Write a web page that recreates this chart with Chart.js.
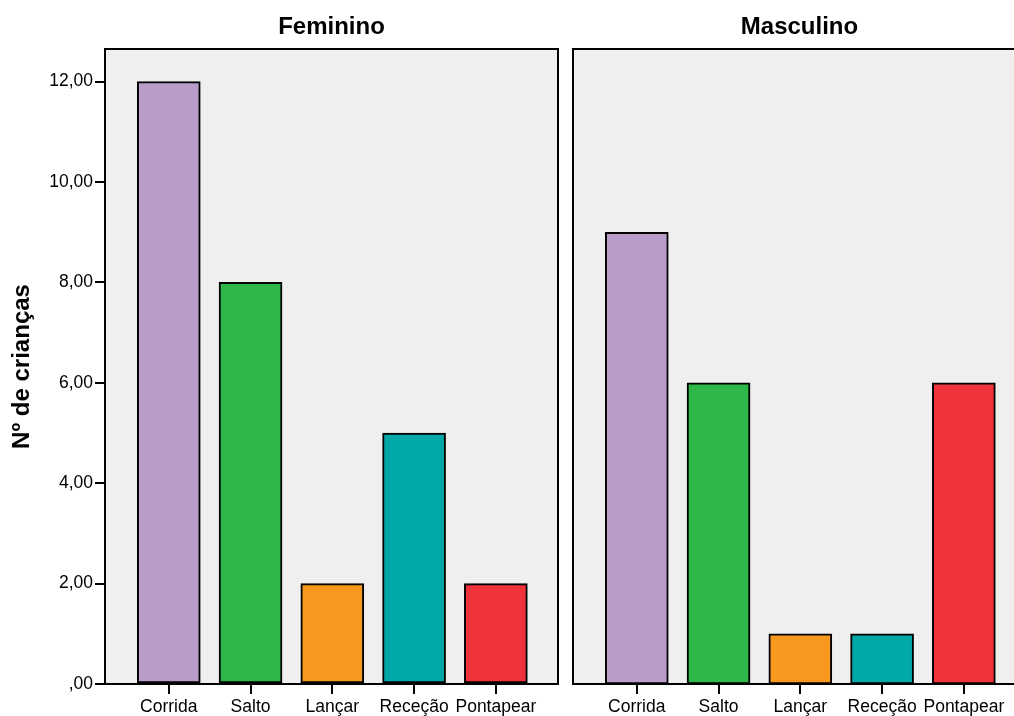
<!DOCTYPE html>
<html>
<head>
<meta charset="utf-8">
<script src="https://cdn.jsdelivr.net/npm/chart.js@4"></script>
<style>
  html, body { margin: 0; padding: 0; background: #fff; overflow: hidden; }
  #wrap { position: relative; width: 1014px; height: 716px; overflow: hidden; }
  #left { position: absolute; left: 0; top: 0; }
  #right { position: absolute; left: 565px; top: 0; }
</style>
</head>
<body>
<div id="wrap">
  <canvas id="left" width="565" height="716"></canvas>
  <canvas id="right" width="475" height="716"></canvas>
</div>
<script>
// categories and values
const categories = ['Corrida', 'Salto', 'Lançar', 'Receção', 'Pontapear'];
const feminino = [12, 8, 2, 5, 2];
const masculino = [9, 6, 1, 1, 6];
const yTicks = [0, 2, 4, 6, 8, 10, 12];
const barColors = ['#B89CC9', '#2EB84A', '#F7991F', '#00A8A8', '#F0333A'];

Chart.defaults.font.family = '"Liberation Sans", Arial, sans-serif';
Chart.defaults.color = '#000';
Chart.defaults.animation = false;

//---------------------------------------------------------------------------
// panel background + frame
const panelBox = {
    id: 'panelBox',
    beforeDatasetsDraw(chart) {
        const a = chart.chartArea;
        const ctx = chart.ctx;
        ctx.save();
        ctx.fillStyle = '#EFEFEF';
        ctx.fillRect(a.left, a.top, a.right - a.left, a.bottom - a.top);
        ctx.restore();
    },
    afterDraw(chart) {
        const a = chart.chartArea;
        const ctx = chart.ctx;
        ctx.save();
        ctx.strokeStyle = '#000';
        ctx.lineWidth = 2;
        ctx.strokeRect(a.left, a.top, a.right - a.left, a.bottom - a.top);
        ctx.restore();
    }
};

const fmt = (v) => v === 0 ? ',00' : v.toFixed(2).replace('.', ',');

//---------------------------------------------------------------------------
function makeChart(id, title, values, showY, pad) {
    const points = values.map((v, i) => ({ x: i, y: v }));
    return new Chart(document.getElementById(id), {
        type: 'bar',
        data: {
            datasets: [{
                label: title,
                data: points,
                backgroundColor: barColors,
                borderColor: '#000',
                borderWidth: 2,
                borderSkipped: false,
                barThickness: 63
            }]
        },
        options: {
            responsive: false,
            layout: { padding: pad },
            plugins: { legend: { display: false }, tooltip: { enabled: false } },
            scales: {
                x: {
                    type: 'linear',
                    position: 'bottom',
                    offset: false,
                    min: -0.78,
                    max: 4.76,
                    afterBuildTicks: (s) => { s.ticks = categories.map((c, i) => ({ value: i })); },
                    afterFit: (s) => { s.height = 32; },
                    ticks: {
                        callback: (v) => categories[v],
                        font: { size: 17.5 },
                        padding: 3,
                        maxRotation: 0,
                        autoSkip: false
                    },
                    grid: { offset: false, drawOnChartArea: false, tickLength: 10, color: '#000', lineWidth: 2 },
                    border: { display: false }
                },
                top: {
                    type: 'linear',
                    position: 'top',
                    afterFit: (s) => { s.height = 49; },
                    ticks: { display: false },
                    grid: { display: false },
                    border: { display: false },
                    title: {
                        display: true,
                        text: title,
                        font: { size: 24, weight: 'bold' },
                        padding: { top: 13, bottom: 0 }
                    }
                },
                y: {
                    display: showY,
                    min: 0,
                    max: 12.65,
                    afterBuildTicks: (s) => { s.ticks = yTicks.map(v => ({ value: v })); },
                    afterFit: (s) => { if (showY) s.width = 105; },
                    ticks: { callback: fmt, font: { size: 17.5 }, padding: 2 },
                    grid: { drawOnChartArea: false, tickLength: 10, color: '#000', lineWidth: 2 },
                    border: { display: false },
                    title: {
                        display: true,
                        text: 'Nº de crianças',
                        font: { size: 24, weight: 'bold' },
                        padding: { top: 8, bottom: 0 }
                    }
                }
            }
        },
        plugins: [panelBox]
    });
}

makeChart('left', 'Feminino', feminino, true, { left: 0, right: 7, top: 0, bottom: 0 });
makeChart('right', 'Masculino', masculino, false, { left: 8, right: 14, top: 0, bottom: 0 });
</script>
</body>
</html>
